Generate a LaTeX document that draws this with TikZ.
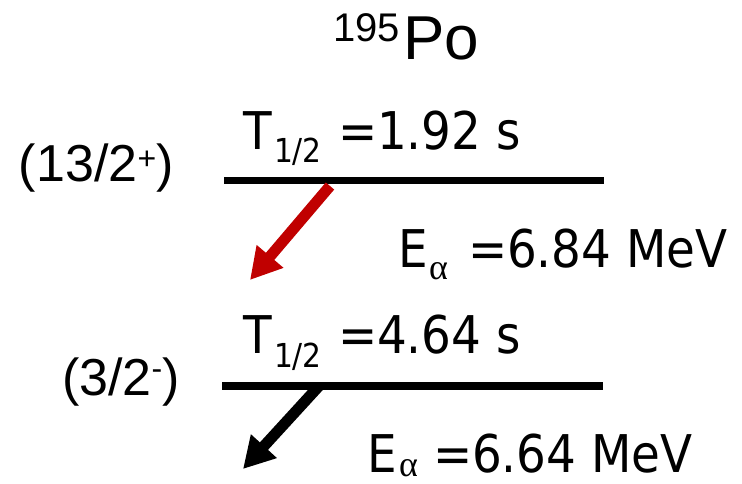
\documentclass[tikz,border=0pt]{standalone}
\usepackage{fontspec}
\setmainfont{Liberation Sans}
\newfontfamily\tah[FakeStretch=0.9]{DejaVu Sans}
\newfontfamily\greek{Liberation Serif}
\usetikzlibrary{arrows.meta}
\definecolor{decayred}{HTML}{C00000}
\begin{document}
\begin{tikzpicture}[x=1pt,y=-1pt,
  lab/.style={anchor=base west, inner sep=0pt, outer sep=0pt},
  big/.style={font=\tah\fontsize{52}{52}\selectfont},
  small/.style={font=\tah\fontsize{33}{33}\selectfont},
  alph/.style={font=\greek\fontsize{36}{36}\selectfont, text depth=0pt},
  spin/.style={font=\fontsize{52}{52}\selectfont},
  level/.style={line width=7.5pt},
  decay/.style={line width=11pt, -{Triangle[length=31pt,width=33pt]}},
]
\useasboundingbox (0,0) rectangle (742,484);
% title
\node[lab, font=\fontsize{40}{40}\selectfont] (mass) at (333,42) {195};
\node[lab, font=\fontsize{62}{62}\selectfont] (elem) at (403,60) {Po};
% upper level
\node[lab, spin] (spin1) at (19,182) {(13/2\raisebox{12pt}{\fontsize{32}{32}\selectfont +})};
\node[lab, big] (T1) at (243,150) {T};
\node[lab, small] (T1s) at (274,163) {1/2};
\node[lab, big] (T1v) at (338,150) {=1.92 s};
\coordinate (l1a) at (224,180.5);
\coordinate (l1b) at (604,180.5);
\draw[level] (l1a) -- (l1b);
% red decay
\coordinate (a1s) at (330,186);
\coordinate (a1e) at (250,280);
\draw[decay, draw=decayred, fill=decayred] (a1s) -- (a1e);
\node[lab, big] (E1) at (398,267) {E};
\node[lab, alph] (E1s) at (429,279) {α};
\node[lab, big] (E1v) at (468,267) {=6.84 MeV};
% lower level
\node[lab, spin] (spin2) at (62,395) {(3/2\raisebox{16pt}{\fontsize{32}{32}\selectfont -})};
\node[lab, big] (T2) at (243,353) {T};
\node[lab, small] (T2s) at (274,367) {1/2};
\node[lab, big] (T2v) at (338,353) {=4.64 s};
\coordinate (l2a) at (222,386);
\coordinate (l2b) at (603,386);
\draw[level] (l2a) -- (l2b);
% black decay
\coordinate (a2s) at (319,386);
\coordinate (a2e) at (243,469);
\draw[decay] (a2s) -- (a2e);
\node[lab, big] (E2) at (367,472) {E};
\node[lab, alph] (E2s) at (399,476) {α};
\node[lab, big] (E2v) at (433,472) {=6.64 MeV};
\end{tikzpicture}
\end{document}
